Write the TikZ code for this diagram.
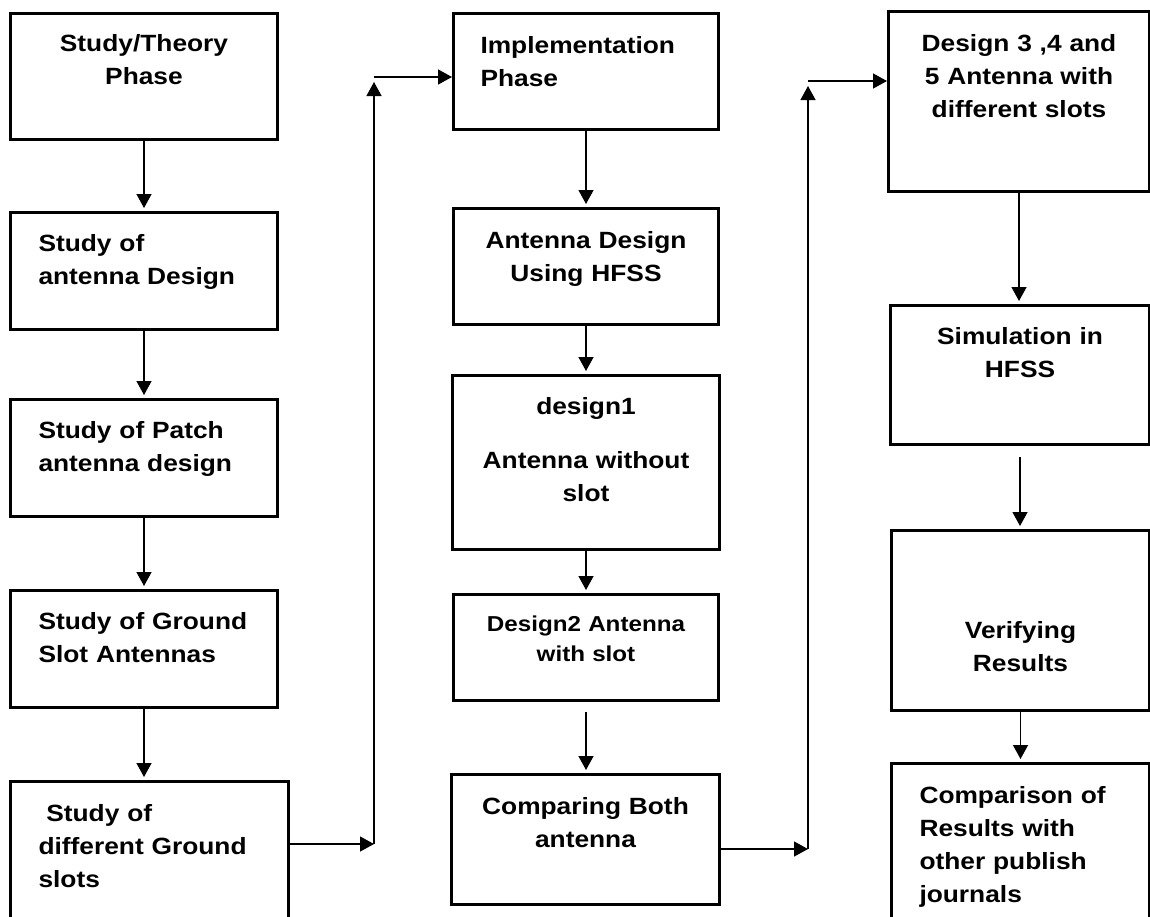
\documentclass[tikz,border=0pt]{standalone}
\usepackage{fontspec}
\setmainfont{Liberation Sans}[FakeStretch=1.12]
\usetikzlibrary{arrows.meta}

\newcommand{\stagefont}{\bfseries\fontsize{23.5}{33}\selectfont}
\newcommand{\smallstagefont}{\bfseries\fontsize{21.6}{30}\selectfont}

\tikzset{
  stage/.style={draw, line width=3pt, anchor=north west, inner ysep=0pt, font=\stagefont},
  lefttext/.style={align=left, inner xsep=28pt},
  midtext/.style={align=center, inner xsep=4pt},
  flow/.style={line width=1.3pt, -{Triangle[length=14pt,width=15pt]}},
}

\begin{document}
\begin{tikzpicture}[x=1pt,y=-1pt]
  \useasboundingbox (0,0) rectangle (1150,916);
  \clip (0,0) rectangle (1150,916);

  % study / theory column
  \node[stage, midtext, text width=259pt, text height=38pt, text depth=88pt] (a1) at (9,12) {Study/Theory\\Phase};
  \node[stage, lefttext, text width=211pt, text height=39pt, text depth=78pt] (a2) at (9,211) {Study of\\antenna~Design};
  \node[stage, lefttext, text width=211pt, text height=39pt, text depth=78pt] (a3) at (9,398) {Study of Patch\\antenna~design};
  \node[stage, lefttext, text width=211pt, text height=39pt, text depth=78pt] (a4) at (9,589) {Study~of~Ground\\Slot Antennas};
  \node[stage, lefttext, text width=222pt, text height=40pt, text depth=110pt] (a5) at (9,780) {~Study of\\different~Ground\\slots};

  % implementation column
  \node[stage, lefttext, inner xsep=27pt, text width=211pt, text height=40pt, text depth=76pt] (b1) at (452,12) {Implementation\\Phase};
  \node[stage, midtext, text width=257pt, text height=40pt, text depth=76pt] (b2) at (452,207) {Antenna Design\\Using HFSS};
  \node[stage, midtext, text width=259pt, text height=39pt, text depth=135pt] (b3) at (451,374) {design1\\[21pt]Antenna without\\slot};
  \node[stage, midtext, font=\smallstagefont, text width=257pt, text height=37pt, text depth=69pt] (b4) at (452,593) {Design2 Antenna\\with slot};
  \node[stage, midtext, text width=260pt, text height=40pt, text depth=90pt] (b5) at (450,773) {Comparing Both\\antenna};

  % results column
  \node[stage, midtext, text width=253pt, text height=40pt, text depth=140pt] (c1) at (887,10) {Design 3 ,4 and\\5 Antenna with\\different slots};
  \node[stage, midtext, text width=251pt, text height=39pt, text depth=100pt] (c2) at (889,304) {Simulation in\\HFSS};
  \node[stage, midtext, text width=250pt, text height=108pt, text depth=72pt] (c3) at (890,529) {Verifying\\Results};
  \node[stage, lefttext, text width=202pt, text height=40pt, text depth=150pt] (c4) at (890,762) {Comparison~of\\Results with\\other~publish\\journals};

  \coordinate (upA) at (374,844);
  \coordinate (topA) at (374,77);
  \coordinate (upB) at (808,849);
  \coordinate (topB) at (808,81);

  % arrows
  \draw[flow, shorten >=3pt] (a1.south) -- (a1.south |- a2.north);
  \draw[flow, shorten >=3pt] (a2.south) -- (a2.south |- a3.north);
  \draw[flow, shorten >=3pt] (a3.south) -- (a3.south |- a4.north);
  \draw[flow, shorten >=3pt] (a4.south) -- (a4.south |- a5.north);
  \draw[flow] (a5.east |- upA) -- (upA);
  \draw[flow, shorten >=5pt] (upA) -- (topA);
  \draw[flow] (topA) -- (topA -| b1.west);

  \draw[flow, shorten >=3pt] (b1.south) -- (b1.south |- b2.north);
  \draw[flow, shorten >=3pt] (b2.south) -- (b2.south |- b3.north);
  \draw[flow, shorten >=3pt] (b3.south) -- (b3.south |- b4.north);
  \draw[flow, shorten <=10pt, shorten >=3pt] (b4.south) -- (b4.south |- b5.north);
  \draw[flow] (b5.east |- upB) -- (upB);
  \draw[flow, shorten >=5pt] (upB) -- (topB);
  \draw[flow] (topB) -- (topB -| c1.west);

  \draw[flow, shorten >=3pt] (c1.south) -- (c1.south |- c2.north);
  \draw[flow, shorten <=11pt, shorten >=3pt] (c2.south) -- (c2.south |- c3.north);
  \draw[flow, shorten >=3pt] (c3.south) -- (c3.south |- c4.north);
\end{tikzpicture}
\end{document}
